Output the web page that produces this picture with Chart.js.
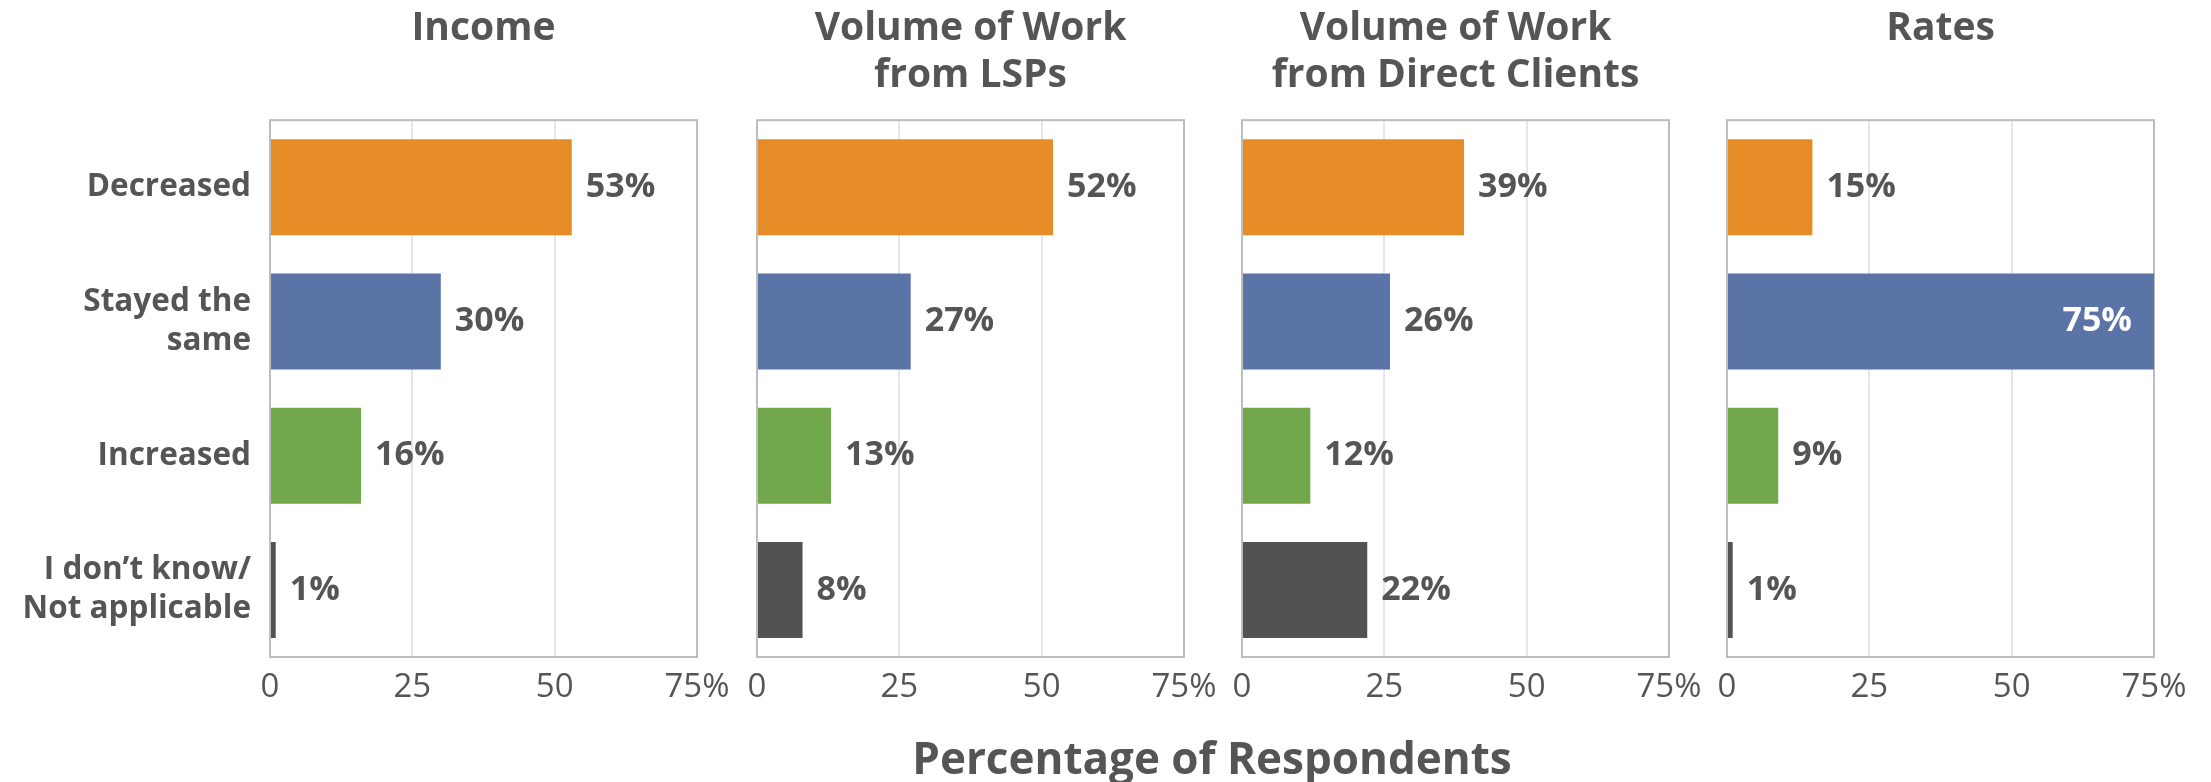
<!DOCTYPE html>
<html>
<head>
<meta charset="utf-8">
<script src="https://cdn.jsdelivr.net/npm/chart.js@4.4.1/dist/chart.umd.min.js"></script>
<style>
  body { margin: 0; background: #fff; width: 2211px; height: 782px; position: relative; overflow: hidden; }
  canvas { position: absolute; top: 0; }
  #xTitle {
    position: absolute; left: 270px; width: 1884px; top: 727px;
    text-align: center; font: bold 44px "Open Sans", sans-serif; color: #555;
  }
</style>
</head>
<body>
<canvas id="c0"></canvas>
<canvas id="c1"></canvas>
<canvas id="c2"></canvas>
<canvas id="c3"></canvas>
<div id="xTitle">Percentage of Respondents</div>
<script>
// data
const categories = ["Decreased", ["Stayed the", "same"], "Increased", ["I don\u2019t know/", "Not applicable"]];
const panelTitles = [["Income", ""], ["Volume of Work", "from LSPs"], ["Volume of Work", "from Direct Clients"], ["Rates", ""]];
const incomeValues = [53, 30, 16, 1];
const lspValues = [52, 27, 13, 8];
const directValues = [39, 26, 12, 22];
const ratesValues = [15, 75, 9, 1];
const xTicks = [0, 25, 50, 75];

const barColors = ["#E68C26", "#5A74A8", "#70A84B", "#545250"];
const textColor = "#555555";
const fontFamily = '"Open Sans", sans-serif';

// plot area left edges, all panels 427 wide
const panelLefts = [270, 757, 1242, 1727];
const plotWidth = 427;
const padRight = 45;

// border around plot area + value labels
const framePlugin = {
  id: "frame",
  beforeDatasetsDraw(chart) {
    const a = chart.chartArea;
    const ctx = chart.ctx;
    ctx.save();
    ctx.strokeStyle = "#bdbdbd";
    ctx.lineWidth = 2;
    ctx.strokeRect(a.left, a.top, a.right - a.left, a.bottom - a.top);
    ctx.restore();
  },
  afterDatasetsDraw(chart) {
    const ctx = chart.ctx;
    const meta = chart.getDatasetMeta(0);
    const values = chart.data.datasets[0].data;
    ctx.save();
    ctx.font = "bold 34px " + fontFamily;
    ctx.textBaseline = "middle";
    meta.data.forEach((bar, i) => {
      const v = values[i];
      if (v >= 70) {
        ctx.fillStyle = "#ffffff";
        ctx.textAlign = "right";
        ctx.fillText(v + "%", bar.x - 22, bar.y);
      } else {
        ctx.fillStyle = textColor;
        ctx.textAlign = "left";
        ctx.fillText(v + "%", bar.x + 14, bar.y);
      }
    });
    ctx.restore();
  },
};

function makePanel(idx, values) {
  const first = idx === 0;
  const canvas = document.getElementById("c" + idx);
  const padLeft = first ? 0 : 30;
  const canvasLeft = first ? 0 : panelLefts[idx] - padLeft;
  const width = (panelLefts[idx] + plotWidth + padRight) - canvasLeft;
  canvas.style.left = canvasLeft + "px";
  canvas.width = width;
  canvas.height = 782;
  canvas.style.width = width + "px";
  canvas.style.height = "782px";

  return new Chart(canvas.getContext("2d"), {
    type: "bar",
    data: {
      labels: categories,
      datasets: [
        {
          data: values,
          backgroundColor: barColors,
          barPercentage: 0.715,
          categoryPercentage: 1,
        },
      ],
    },
    options: {
      indexAxis: "y",
      responsive: false,
      animation: false,
      layout: { padding: { left: padLeft, right: padRight, top: 0, bottom: 0 } },
      plugins: {
        legend: { display: false },
        tooltip: { enabled: false },
        title: {
          display: true,
          text: panelTitles[idx],
          fullSize: false,
          color: textColor,
          font: { family: fontFamily, size: 39, weight: "bold", lineHeight: 1.22 },
          padding: { top: 5, bottom: 20 },
        },
      },
      scales: {
        x: {
          min: 0,
          max: 75,
          afterBuildTicks(scale) {
            scale.ticks = xTicks.map((v) => ({ value: v }));
          },
          afterFit(scale) {
            scale.height = 125;
          },
          grid: { color: "#e6e6e6", lineWidth: 2, drawTicks: false },
          border: { display: false },
          ticks: {
            color: textColor,
            padding: 11,
            font: { family: fontFamily, size: 33 },
            callback: (v) => (v === 75 ? "75%" : String(v)),
          },
        },
        y: {
          display: first,
          afterFit(scale) {
            if (first) scale.width = panelLefts[0];
          },
          grid: { display: false },
          border: { display: false },
          ticks: {
            color: textColor,
            padding: 11,
            font: { family: fontFamily, size: 31.5, weight: "bold", lineHeight: 1.24 },
          },
        },
      },
    },
    plugins: [framePlugin],
  });
}

makePanel(0, incomeValues);
makePanel(1, lspValues);
makePanel(2, directValues);
makePanel(3, ratesValues);
</script>
</body>
</html>
